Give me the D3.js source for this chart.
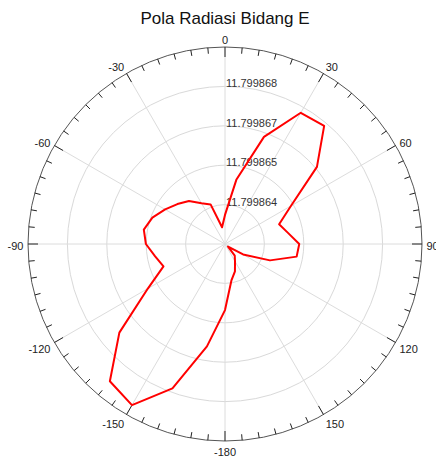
<!DOCTYPE html>
<html>
<head>
<meta charset="utf-8">
<script src="https://cdn.jsdelivr.net/npm/d3@7"></script>
<style>
  html, body { margin: 0; padding: 0; background: #fff; }
  svg { display: block; font-family: "Liberation Sans", Arial, sans-serif; }
</style>
</head>
<body>
<svg id="chart" width="436" height="457"></svg>
<script>
// Measured E-plane pattern: angle (degrees, clockwise from top) and field value
const angles = [
  -180, -170, -160, -150, -140, -130, -120, -110, -100, -90, -80, -70,
  -60, -50, -40, -30, -20, -10, 0, 10, 20, 30, 40, 50,
  60, 70, 80, 90, 100, 110, 120, 130, 140, 150, 160, 170
];
const values = [
  11.79986498, 11.79986623, 11.79986787, 11.79986894, 11.79986871, 11.79986735,
  11.79986574, 11.79986496, 11.79986514, 11.79986541, 11.79986552, 11.79986535,
  11.79986508, 11.79986485, 11.79986465, 11.79986435, 11.79986419, 11.79986336,
  11.79986376, 11.79986495, 11.79986656, 11.79986780, 11.79986789, 11.79986676,
  11.79986531, 11.79986470, 11.79986491, 11.79986525, 11.79986520, 11.79986438,
  11.79986349, 11.79986293, 11.79986330, 11.79986346, 11.79986376, 11.79986402
];
// Radial axis range and ring ticks
const radialDomain = [11.7998628, 11.7998693];
const radialTicks = [11.7998641, 11.7998654, 11.7998667, 11.7998680];
// Angular axis labels
const angleLabels = [0, 30, 60, 90, 120, 150, -180, -150, -120, -90, -60, -30];

const title = "Pola Radiasi Bidang E";

const svg = d3.select("#chart");
const cx = 225, cy = 244, R = 197;

const r = d3.scaleLinear().domain(radialDomain).range([0, R]);
const toRad = d => d * Math.PI / 180;
const px = (deg, rad) => cx + rad * Math.sin(toRad(deg));
const py = (deg, rad) => cy - rad * Math.cos(toRad(deg));

// Title
svg.append("text")
  .attr("x", cx).attr("y", 24)
  .attr("text-anchor", "middle")
  .attr("font-size", 17)
  .attr("fill", "#111")
  .text(title);

const g = svg.append("g");

// Grid rings
g.selectAll("circle.ring").data(radialTicks).join("circle")
  .attr("class", "ring")
  .attr("cx", cx).attr("cy", cy)
  .attr("r", d => r(d))
  .attr("fill", "none")
  .attr("stroke", "#d9d9d9")
  .attr("stroke-width", 1);

// Radial spokes every 30 degrees
g.selectAll("line.spoke").data(d3.range(-180, 180, 30)).join("line")
  .attr("class", "spoke")
  .attr("x1", cx).attr("y1", cy)
  .attr("x2", d => px(d, R)).attr("y2", d => py(d, R))
  .attr("stroke", "#dcdcdc")
  .attr("stroke-width", 1);

// Outer circle
g.append("circle")
  .attr("cx", cx).attr("cy", cy).attr("r", R)
  .attr("fill", "none")
  .attr("stroke", "#555")
  .attr("stroke-width", 1);

// Angular ticks (every 5 degrees, longer every 30)
g.selectAll("line.tick").data(d3.range(-180, 180, 5)).join("line")
  .attr("class", "tick")
  .attr("x1", d => px(d, R)).attr("y1", d => py(d, R))
  .attr("x2", d => px(d, R - (d % 30 === 0 ? 10 : 6)))
  .attr("y2", d => py(d, R - (d % 30 === 0 ? 10 : 6)))
  .attr("stroke", "#222")
  .attr("stroke-width", 1);

// Angular labels
g.selectAll("text.alabel").data(angleLabels).join("text")
  .attr("class", "alabel")
  .attr("x", d => cx + (R + 4.5) * Math.sin(toRad(d)))
  .attr("y", d => cy - (R + 7) * Math.cos(toRad(d)) + 2 * (1 - Math.cos(toRad(d))))
  .attr("dy", "0.35em")
  .attr("text-anchor", d => {
    const s = Math.sin(toRad(d));
    return s > 0.01 ? "start" : (s < -0.01 ? "end" : "middle");
  })
  .attr("font-size", 11)
  .attr("fill", "#222")
  .text(d => d);

// Ring value labels
const fmt = d3.format(".6f");
g.selectAll("text.rlabel").data(radialTicks).join("text")
  .attr("class", "rlabel")
  .attr("x", cx + 1)
  .attr("y", d => cy - r(d) + 1)
  .attr("font-size", 11)
  .attr("fill", "#333")
  .text(d => fmt(d));

// Pattern trace
const pts = angles.map((a, i) => [toRad(a), r(values[i])]);
const line = d3.lineRadial()
  .angle(d => d[0])
  .radius(d => d[1])
  .curve(d3.curveLinearClosed);

g.append("path")
  .attr("transform", `translate(${cx},${cy})`)
  .attr("d", line(pts))
  .attr("fill", "none")
  .attr("stroke", "#ff0000")
  .attr("stroke-width", 2)
  .attr("stroke-linejoin", "round");
</script>
</body>
</html>
